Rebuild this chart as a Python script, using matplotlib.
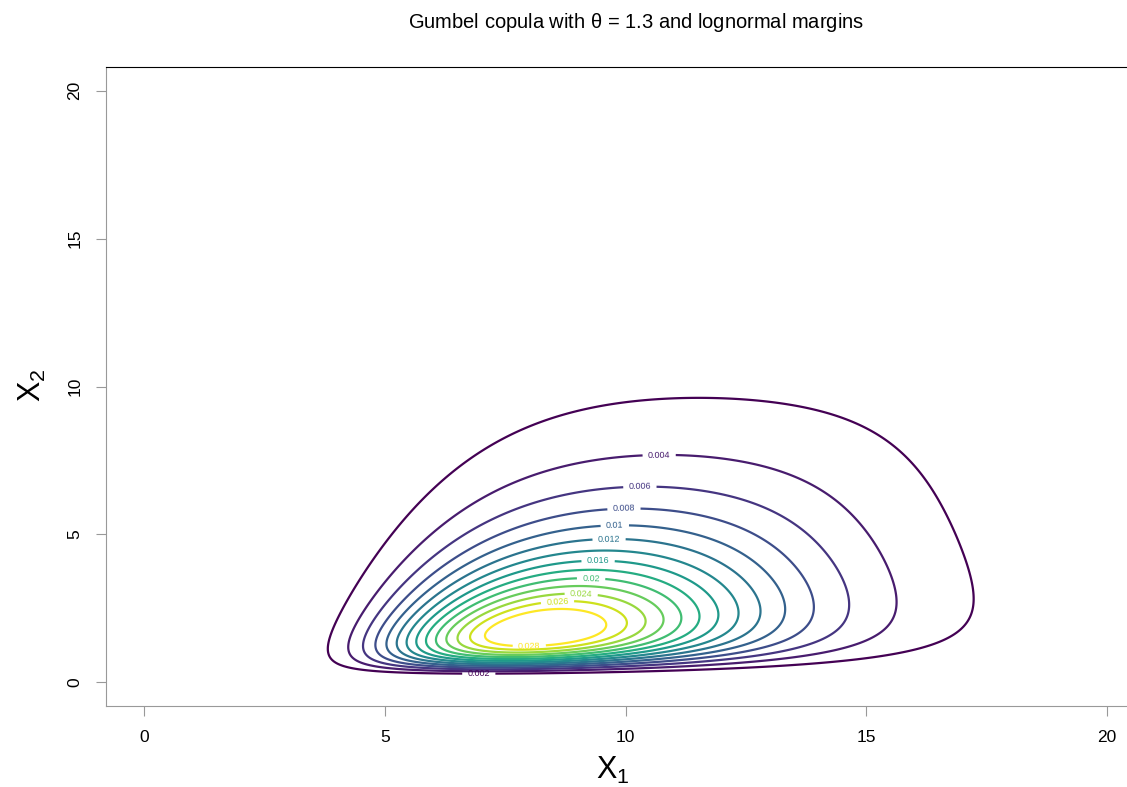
import math
import numpy as np
import matplotlib
matplotlib.use('Agg')
import matplotlib.pyplot as plt

plt.rcParams['font.family'] = ['Liberation Sans', 'DejaVu Sans']
plt.rcParams['mathtext.fontset'] = 'custom'
plt.rcParams['mathtext.rm'] = 'Liberation Sans'
plt.rcParams['mathtext.it'] = 'Liberation Sans'

# Gumbel copula parameter and lognormal margins
theta = 1.3
meanlog1, sdlog1 = 2.30, 0.34
meanlog2, sdlog2 = 1.20, 0.77

# contour levels and where each label sits (None = no label)
levels = [0.002, 0.004, 0.006, 0.008, 0.010, 0.012, 0.014,
          0.016, 0.018, 0.020, 0.022, 0.024, 0.026, 0.028]
label_pos = [(6.95, 0.13), (10.7, 7.66), (10.3, 6.5), (9.97, 5.7),
             (9.78, 5.09), (9.66, 4.55), None, (9.43, 3.78), None,
             (9.28, 3.17), None, (9.07, 2.6), (8.6, 2.3), (8.0, 1.2)]

ticks = [0, 5, 10, 15, 20]


def lnorm_pdf(x, m, s):
    return np.exp(-(np.log(x) - m) ** 2 / (2 * s ** 2)) / (x * s * np.sqrt(2 * np.pi))


erf = np.vectorize(math.erf)


def lnorm_cdf(x, m, s):
    return 0.5 * (1 + erf((np.log(x) - m) / (s * np.sqrt(2))))


def gumbel_density(u, v, th):
    a = -np.log(u)
    b = -np.log(v)
    w = (a ** th + b ** th) ** (1 / th)
    C = np.exp(-w)
    return C * (a * b) ** (th - 1) / (u * v) * w ** (1 - 2 * th) * (w + th - 1)


x = np.linspace(0.02, 20.8, 700)
y = np.linspace(0.02, 20.8, 900)
u = np.clip(lnorm_cdf(x, meanlog1, sdlog1), 1e-12, 1 - 1e-12)
v = np.clip(lnorm_cdf(y, meanlog2, sdlog2), 1e-12, 1 - 1e-12)
U, V = np.meshgrid(u, v)
F1, F2 = np.meshgrid(lnorm_pdf(x, meanlog1, sdlog1), lnorm_pdf(y, meanlog2, sdlog2))
Z = gumbel_density(U, V, theta) * F1 * F2

fig = plt.figure(figsize=(11.27, 7.87), dpi=100)
ax = fig.add_axes([106 / 1127, 81 / 787, 1039 / 1127, 639 / 787])

cols = plt.cm.viridis(np.linspace(0, 1, len(levels)))
for lvl, col, pos in zip(levels, cols, label_pos):
    cs = ax.contour(x, y, Z, levels=[lvl], colors=[col], linewidths=1.6)
    if pos is not None:
        ax.clabel(cs, manual=[pos], fmt=lambda v: f'{v:g}', fontsize=6.5,
                  inline=True, inline_spacing=6)

ax.set_xlim(-0.8, 20.8)
ax.set_ylim(-0.8, 20.8)
ax.set_xticks(ticks)
ax.set_yticks(ticks)
ax.tick_params(axis='both', direction='out', length=7, color='#999999', labelsize=12.5, pad=10)
for lab in ax.get_yticklabels():
    lab.set_rotation(90)
    lab.set_va('center')
ax.spines['right'].set_visible(False)
ax.spines['left'].set_color('#999999')
ax.spines['bottom'].set_color('#999999')
ax.spines['top'].set_color('black')

fig.text(636 / 1127, 1 - 22 / 787, r'Gumbel copula with $\theta$ = 1.3 and lognormal margins',
         ha='center', va='center', fontsize=14.5)
fig.text(613 / 1127, 1 - 770 / 787, r'$\mathrm{X}_1$', ha='center', va='center', fontsize=22)
fig.text(32 / 1127, 1 - 385 / 787, r'$\mathrm{X}_2$', ha='center', va='center', fontsize=22, rotation=90)

fig.savefig('out.png', dpi=100)
